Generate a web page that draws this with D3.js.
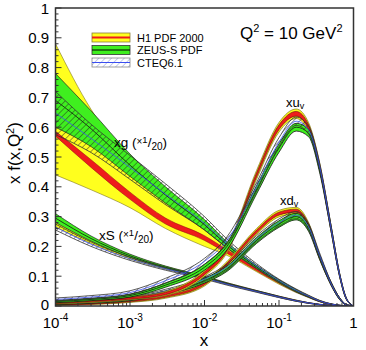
<!DOCTYPE html>
<html>
<head>
<meta charset="utf-8">
<script src="https://cdn.jsdelivr.net/npm/d3@7"></script>
<style>
  body { margin: 0; background: #fff; }
  svg { display: block; font-family: "Liberation Sans", Arial, sans-serif; }
</style>
</head>
<body>
<svg id="chart" width="366" height="350"></svg>
<script>
/* =========================================================
   DATA  (Q^2 = 10 GeV^2)
========================================================= */

const xGrid = [1e-4, 3e-4, 1e-3, 3e-3, 0.01, 0.02, 0.05, 0.1, 0.17, 0.25, 0.35, 0.5, 0.65, 0.8, 1];

// xg (x 1/20)
const xgH1Lo   = [0.44, 0.39, 0.33, 0.26, 0.20, 0.17, 0.115, 0.073, 0.045, 0.028, 0.014, 0.005, 0.0015, 0.0003, 0];
const xgH1Hi   = [0.88, 0.66, 0.49, 0.38, 0.275, 0.205, 0.135, 0.087, 0.055, 0.035, 0.019, 0.007, 0.0025, 0.0006, 0];
const xgH1Exp  = [0.578, 0.478, 0.37, 0.285, 0.228, 0.183, 0.122, 0.079, 0.049, 0.031, 0.016, 0.006, 0.002, 0.0004, 0];
const xgH1ExpErr = [0.008, 0.013, 0.012, 0.010, 0.008, 0.006, 0.004, 0.003, 0.002, 0.001, 0.001, 0.0005, 0.0002, 0.0001, 0];
const xgZeusLo = [0.60, 0.535, 0.435, 0.345, 0.255, 0.195, 0.125, 0.078, 0.047, 0.029, 0.015, 0.0055, 0.0018, 0.0004, 0];
const xgZeusHi = [0.78, 0.655, 0.51, 0.40, 0.29, 0.215, 0.137, 0.088, 0.055, 0.034, 0.018, 0.007, 0.0025, 0.0006, 0];
const xgCteqLo = [0.575, 0.515, 0.425, 0.34, 0.255, 0.195, 0.127, 0.08, 0.048, 0.030, 0.015, 0.0055, 0.0018, 0.0004, 0];
const xgCteqHi = [0.72, 0.61, 0.505, 0.41, 0.30, 0.225, 0.142, 0.09, 0.057, 0.036, 0.019, 0.0075, 0.0025, 0.0006, 0];

// xS (x 1/20)
const xsH1Lo   = [0.265, 0.21, 0.158, 0.123, 0.092, 0.072, 0.047, 0.029, 0.016, 0.009, 0.004, 0.001, 0.0003, 0, 0];
const xsH1Hi   = [0.30, 0.232, 0.172, 0.133, 0.099, 0.078, 0.052, 0.033, 0.02, 0.011, 0.006, 0.002, 0.0005, 0.0001, 0];
const xsZeusLo = [0.28, 0.218, 0.163, 0.126, 0.093, 0.073, 0.048, 0.029, 0.016, 0.009, 0.0045, 0.0012, 0.0003, 0, 0];
const xsZeusHi = [0.31, 0.235, 0.174, 0.134, 0.10, 0.078, 0.052, 0.033, 0.019, 0.011, 0.0055, 0.0018, 0.0005, 0.0001, 0];
const xsCteqLo = [0.255, 0.20, 0.153, 0.12, 0.09, 0.07, 0.046, 0.028, 0.016, 0.009, 0.0045, 0.0012, 0.0003, 0, 0];
const xsCteqHi = [0.275, 0.215, 0.164, 0.129, 0.097, 0.076, 0.051, 0.032, 0.019, 0.011, 0.0055, 0.0018, 0.0005, 0.0001, 0];

// xu_v
const uvH1      = [0.010, 0.016, 0.026, 0.042, 0.11, 0.19, 0.44, 0.60, 0.645, 0.60, 0.47, 0.26, 0.105, 0.025, 0];
const uvH1Err   = [0.003, 0.004, 0.005, 0.007, 0.010, 0.012, 0.015, 0.016, 0.016, 0.015, 0.013, 0.010, 0.006, 0.003, 0];
const uvH1Exp   = [0.002, 0.002, 0.003, 0.004, 0.005, 0.006, 0.007, 0.008, 0.008, 0.008, 0.007, 0.005, 0.003, 0.001, 0];
const uvZeus    = [0.015, 0.022, 0.035, 0.07, 0.13, 0.20, 0.39, 0.53, 0.60, 0.58, 0.46, 0.26, 0.105, 0.025, 0];
const uvZeusErr = [0.004, 0.004, 0.005, 0.007, 0.010, 0.012, 0.014, 0.014, 0.013, 0.012, 0.011, 0.009, 0.005, 0.002, 0];
const uvCteq    = [0.022, 0.030, 0.045, 0.085, 0.15, 0.22, 0.40, 0.55, 0.62, 0.59, 0.47, 0.26, 0.105, 0.025, 0];
const uvCteqErr = [0.005, 0.005, 0.006, 0.008, 0.010, 0.012, 0.014, 0.015, 0.014, 0.013, 0.011, 0.009, 0.005, 0.002, 0];

// xd_v
const dvH1      = [0.004, 0.008, 0.016, 0.032, 0.075, 0.14, 0.25, 0.31, 0.32, 0.27, 0.165, 0.075, 0.025, 0.004, 0];
const dvH1Err   = [0.002, 0.003, 0.004, 0.006, 0.008, 0.009, 0.010, 0.011, 0.011, 0.010, 0.008, 0.005, 0.003, 0.001, 0];
const dvH1Exp   = [0.001, 0.002, 0.002, 0.003, 0.004, 0.004, 0.005, 0.005, 0.005, 0.005, 0.004, 0.003, 0.002, 0.001, 0];
const dvZeus    = [0.008, 0.013, 0.023, 0.045, 0.085, 0.125, 0.22, 0.275, 0.30, 0.26, 0.165, 0.075, 0.025, 0.004, 0];
const dvZeusErr = [0.003, 0.004, 0.005, 0.006, 0.008, 0.009, 0.010, 0.011, 0.011, 0.010, 0.008, 0.005, 0.003, 0.001, 0];
const dvCteq    = [0.010, 0.016, 0.026, 0.05, 0.09, 0.13, 0.225, 0.28, 0.305, 0.265, 0.17, 0.075, 0.025, 0.004, 0];
const dvCteqErr = [0.003, 0.004, 0.005, 0.006, 0.008, 0.010, 0.011, 0.012, 0.012, 0.011, 0.009, 0.005, 0.003, 0.001, 0];

// axes
const yTicks = [0, 0.1, 0.2, 0.3, 0.4, 0.5, 0.6, 0.7, 0.8, 0.9, 1];
const yTickLabels = ["0", "0.1", "0.2", "0.3", "0.4", "0.5", "0.6", "0.7", "0.8", "0.9", "1"];
const xDecades = [1e-4, 1e-3, 1e-2, 1e-1, 1];
const xDecadeExps = ["-4", "-3", "-2", "-1", null];

const legendItems = ["H1 PDF 2000", "ZEUS-S PDF", "CTEQ6.1"];


/* =========================================================
   SETUP
========================================================= */

const svg = d3.select("#chart");
const plot = { left: 55.5, right: 353.5, top: 8, bottom: 306 };

const x = d3.scaleLog().domain([1e-4, 1]).range([plot.left, plot.right]);
const y = d3.scaleLinear().domain([0, 1]).range([plot.bottom, plot.top]);

const defs = svg.append("defs");

defs.append("clipPath").attr("id", "clip")
    .append("rect")
    .attr("x", plot.left).attr("y", plot.top)
    .attr("width", plot.right - plot.left)
    .attr("height", plot.bottom - plot.top);

function hatch(id, color, angle, gap, w) {
    const p = defs.append("pattern")
        .attr("id", id)
        .attr("patternUnits", "userSpaceOnUse")
        .attr("width", gap).attr("height", gap)
        .attr("patternTransform", `rotate(${angle})`);
    p.append("line")
        .attr("x1", 0).attr("y1", 0).attr("x2", 0).attr("y2", gap)
        .attr("stroke", color).attr("stroke-width", w);
}
hatch("hatchPlot", "#222", 45, 4.5, 0.9);
hatch("hatchLegend", "#6f7fc8", 45, 4.5, 0.8);

const COL = {
    yellow: "#ffff1e",
    yellowEdge: "#7d7420",
    red: "#ee1c1c",
    green: "#3fef1f",
    blue: "#3b4ff0"
};

const g = svg.append("g").attr("clip-path", "url(#clip)");

const area = d3.area()
    .x(d => x(d.x)).y0(d => y(d.lo)).y1(d => y(d.hi))
    .curve(d3.curveMonotoneX);
const lineLo = d3.line().x(d => x(d.x)).y(d => y(d.lo)).curve(d3.curveMonotoneX);
const lineHi = d3.line().x(d => x(d.x)).y(d => y(d.hi)).curve(d3.curveMonotoneX);
const lineMid = d3.line().x(d => x(d.x)).y(d => y((d.lo + d.hi) / 2)).curve(d3.curveMonotoneX);

function rowsLoHi(lo, hi) {
    return xGrid.map((xv, i) => ({ x: xv, lo: lo[i], hi: hi[i] }));
}
function rowsErr(c, e) {
    return xGrid.map((xv, i) => ({ x: xv, lo: c[i] - e[i], hi: c[i] + e[i] }));
}

// one band: fill + edges (+ optional central line)
function band(rows, fill, edge, edgeW, mid) {
    g.append("path").datum(rows).attr("d", area).attr("fill", fill).attr("stroke", "none");
    g.append("path").datum(rows).attr("d", lineLo).attr("fill", "none").attr("stroke", edge).attr("stroke-width", edgeW);
    g.append("path").datum(rows).attr("d", lineHi).attr("fill", "none").attr("stroke", edge).attr("stroke-width", edgeW);
    if (mid) {
        g.append("path").datum(rows).attr("d", lineMid).attr("fill", "none").attr("stroke", mid).attr("stroke-width", 0.8);
    }
}


/* =========================================================
   BANDS
========================================================= */

// gluon
band(rowsLoHi(xgH1Lo, xgH1Hi), COL.yellow, COL.yellowEdge, 0.6);
band(rowsErr(xgH1Exp, xgH1ExpErr), COL.red, "#8a1010", 0.5);
band(rowsLoHi(xgZeusLo, xgZeusHi), COL.green, "#222", 0.7, "#111");
band(rowsLoHi(xgCteqLo, xgCteqHi), "url(#hatchPlot)", "#333", 0.8, COL.blue);

// sea
band(rowsLoHi(xsH1Lo, xsH1Hi), COL.yellow, COL.yellowEdge, 0.6, COL.red);
band(rowsLoHi(xsZeusLo, xsZeusHi), COL.green, "#222", 0.7, "#111");
band(rowsLoHi(xsCteqLo, xsCteqHi), "url(#hatchPlot)", "#333", 0.8, COL.blue);

// d valence
band(rowsErr(dvH1, dvH1Err), COL.yellow, COL.yellowEdge, 0.7);
band(rowsErr(dvH1, dvH1Exp), COL.red, "#5a0a0a", 0.6);
band(rowsErr(dvZeus, dvZeusErr), COL.green, "#111", 0.8, "#111");
band(rowsErr(dvCteq, dvCteqErr), "url(#hatchPlot)", "#333", 0.8, COL.blue);

// u valence
band(rowsErr(uvH1, uvH1Err), COL.yellow, COL.yellowEdge, 0.7);
band(rowsErr(uvH1, uvH1Exp), COL.red, "#5a0a0a", 0.6);
band(rowsErr(uvZeus, uvZeusErr), COL.green, "#111", 0.8, "#111");
band(rowsErr(uvCteq, uvCteqErr), "url(#hatchPlot)", "#333", 0.8, COL.blue);


/* =========================================================
   AXES (ticks inside, frame)
========================================================= */

const axes = svg.append("g").attr("stroke", "#333");

// y ticks: major every 0.1, minor every 0.02
d3.range(0, 1.0001, 0.02).forEach(v => {
    const major = Math.abs(v * 10 - Math.round(v * 10)) < 1e-6;
    axes.append("line")
        .attr("x1", plot.left).attr("x2", plot.left + (major ? 6 : 3))
        .attr("y1", y(v)).attr("y2", y(v))
        .attr("stroke-width", 1);
});

// x ticks: decades + 2..9
xDecades.forEach((d, i) => {
    axes.append("line")
        .attr("x1", x(d)).attr("x2", x(d))
        .attr("y1", plot.bottom).attr("y2", plot.bottom - 6)
        .attr("stroke-width", 1);
    if (i < xDecades.length - 1) {
        d3.range(2, 10).forEach(k => {
            axes.append("line")
                .attr("x1", x(d * k)).attr("x2", x(d * k))
                .attr("y1", plot.bottom).attr("y2", plot.bottom - 3)
                .attr("stroke-width", 1);
        });
    }
});

svg.append("rect")
    .attr("x", plot.left).attr("y", plot.top)
    .attr("width", plot.right - plot.left)
    .attr("height", plot.bottom - plot.top)
    .attr("fill", "none").attr("stroke", "#333").attr("stroke-width", 1.5);

// y tick labels ("0" nudged up a little so it clears 10^-4)
svg.append("g").selectAll("text")
    .data(yTicks)
    .join("text")
    .attr("x", 49).attr("y", d => y(d) + (d === 0 ? 3.5 : 5.5))
    .attr("text-anchor", "end")
    .attr("font-size", 15)
    .text((d, i) => yTickLabels[i]);

// x tick labels
xDecades.forEach((d, i) => {
    const t = svg.append("text")
        .attr("x", x(d)).attr("y", 328)
        .attr("text-anchor", "middle")
        .attr("font-size", 15);
    if (xDecadeExps[i] === null) {
        t.text("1");
    } else {
        t.append("tspan").text("10");
        t.append("tspan").attr("font-size", 10).attr("dy", -7).text(xDecadeExps[i]);
    }
});

// axis titles
svg.append("text")
    .attr("x", 204).attr("y", 346)
    .attr("text-anchor", "middle")
    .attr("font-size", 17)
    .text("x");

const yTitle = svg.append("text")
    .attr("transform", "translate(20,153) rotate(-90)")
    .attr("text-anchor", "middle")
    .attr("font-size", 17);
yTitle.append("tspan").text("x f(x,Q");
yTitle.append("tspan").attr("font-size", 11).attr("dy", -6).text("2");
yTitle.append("tspan").attr("dy", 6).text(")");


/* =========================================================
   LABELS
========================================================= */

const q = svg.append("text").attr("x", 240).attr("y", 39).attr("font-size", 17);
q.append("tspan").text("Q");
q.append("tspan").attr("font-size", 11).attr("dy", -7).text("2");
q.append("tspan").attr("dy", 7).text(" = 10 GeV");
q.append("tspan").attr("font-size", 11).attr("dy", -7).text("2");

function scaledLabel(px, py, name) {
    const t = svg.append("text").attr("x", px).attr("y", py).attr("font-size", 13.5);
    t.append("tspan").text(name + " (");
    t.append("tspan").attr("font-size", 10).attr("dy", -2).text("×");
    t.append("tspan").attr("font-size", 9.5).attr("dy", -2).text("1");
    t.append("tspan").attr("dy", 4).text("/");
    t.append("tspan").attr("font-size", 10).attr("dy", 3).text("20");
    t.append("tspan").attr("dy", -3).text(")");
}
scaledLabel(114, 147, "xg");
scaledLabel(99, 240, "xS");

function valLabel(px, py, name) {
    const t = svg.append("text").attr("x", px).attr("y", py).attr("font-size", 13);
    t.append("tspan").text(name);
    t.append("tspan").attr("font-size", 9).attr("dy", 2).text("v");
}
valLabel(286, 107, "xu");
valLabel(280, 205, "xd");


/* =========================================================
   LEGEND
========================================================= */

const leg = svg.append("g").attr("transform", "translate(92,33)");
const boxW = 38, boxH = 9, rowH = 12.5;

legendItems.forEach((name, i) => {
    const row = leg.append("g").attr("transform", `translate(0,${i * rowH})`);
    if (i === 0) {
        row.append("rect").attr("width", boxW).attr("height", boxH)
            .attr("fill", COL.yellow).attr("stroke", "#8a7d3a").attr("stroke-width", 0.8);
        row.append("line").attr("x1", 0).attr("x2", boxW).attr("y1", boxH / 2).attr("y2", boxH / 2)
            .attr("stroke", COL.red).attr("stroke-width", 2);
    } else if (i === 1) {
        row.append("rect").attr("width", boxW).attr("height", boxH)
            .attr("fill", COL.green).attr("stroke", "#333").attr("stroke-width", 0.8);
        row.append("line").attr("x1", 0).attr("x2", boxW).attr("y1", boxH / 2).attr("y2", boxH / 2)
            .attr("stroke", "#000").attr("stroke-width", 1.2);
    } else {
        row.append("rect").attr("width", boxW).attr("height", boxH)
            .attr("fill", "url(#hatchLegend)").attr("stroke", "#888").attr("stroke-width", 0.8);
        row.append("line").attr("x1", 0).attr("x2", boxW).attr("y1", boxH / 2).attr("y2", boxH / 2)
            .attr("stroke", COL.blue).attr("stroke-width", 1);
    }
    row.append("text")
        .attr("x", boxW + 7).attr("y", boxH - 0.5)
        .attr("font-size", 11)
        .text(name);
});
</script>
</body>
</html>
